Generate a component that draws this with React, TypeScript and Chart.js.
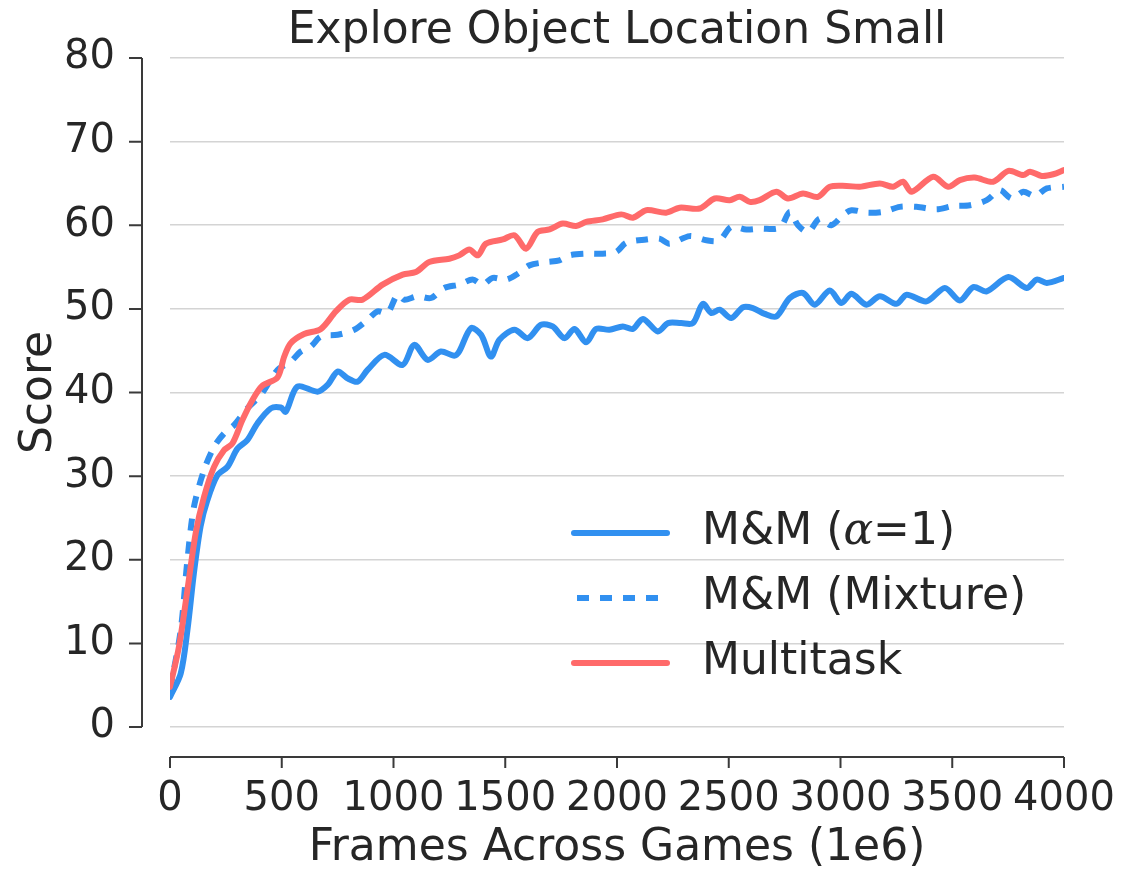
import { useEffect, useRef } from "react";
import Chart from "chart.js/auto";

const FONT = "'DejaVu Sans', sans-serif";
const TEXT = "#262626";
const BLUE = "#3190F0";
const RED = "#FF6A6A";

const chartTitle = "Explore Object Location Small";
const xTicks = [0, 500, 1000, 1500, 2000, 2500, 3000, 3500, 4000];
const yTicks = [0, 10, 20, 30, 40, 50, 60, 70, 80];
const seriesLabels = ["M&M (α=1)", "M&M (Mixture)", "Multitask"];

// M&M (alpha = 1), solid blue
const alphaX = [0, 48, 78, 107, 137, 167, 212, 257, 302, 346, 391, 451, 496, 518, 570, 660, 705, 750, 794, 839, 884, 959, 1041, 1093, 1153, 1212, 1272, 1294, 1347, 1392, 1436, 1474, 1541, 1601, 1660, 1712, 1765, 1810, 1862, 1907, 1966, 2026, 2071, 2116, 2183, 2228, 2287, 2340, 2384, 2422, 2459, 2511, 2564, 2608, 2661, 2713, 2773, 2832, 2885, 2952, 3004, 3049, 3116, 3176, 3251, 3296, 3385, 3467, 3534, 3594, 3654, 3751, 3833, 3878, 3923, 4000];
const alphaY = [3.6, 6.4, 11.6, 18.4, 24.0, 27.1, 30.1, 31.1, 33.3, 34.3, 36.3, 38.1, 38.2, 37.7, 40.7, 40.1, 40.9, 42.5, 41.7, 41.3, 42.7, 44.5, 43.3, 45.7, 43.9, 44.9, 44.4, 44.9, 47.7, 46.9, 44.3, 46.3, 47.5, 46.5, 48.1, 47.9, 46.5, 47.6, 46.0, 47.6, 47.5, 47.9, 47.6, 48.8, 47.3, 48.3, 48.3, 48.3, 50.6, 49.5, 49.9, 48.9, 50.2, 50.1, 49.4, 49.1, 51.3, 51.9, 50.5, 52.2, 50.7, 51.8, 50.5, 51.5, 50.6, 51.7, 50.9, 52.5, 51.0, 52.6, 52.1, 53.8, 52.5, 53.5, 53.1, 53.7];

// M&M (Mixture), dashed blue
const mixtureX = [0, 48, 78, 107, 152, 197, 242, 287, 346, 406, 481, 540, 585, 630, 675, 750, 824, 884, 929, 973, 1018, 1048, 1108, 1168, 1227, 1294, 1354, 1399, 1444, 1504, 1556, 1608, 1683, 1742, 1787, 1862, 1936, 1996, 2041, 2131, 2190, 2235, 2325, 2400, 2459, 2511, 2579, 2638, 2728, 2773, 2810, 2855, 2907, 2959, 3011, 3049, 3116, 3191, 3265, 3340, 3430, 3504, 3579, 3654, 3713, 3766, 3818, 3870, 3923, 4000];
const mixtureY = [4.4, 11.6, 20.0, 26.3, 30.7, 33.5, 35.1, 36.1, 38.1, 39.7, 42.7, 43.7, 44.9, 45.5, 46.7, 46.9, 47.5, 48.7, 49.7, 49.5, 51.7, 51.1, 51.5, 51.3, 52.5, 52.9, 53.5, 52.9, 53.7, 53.5, 54.2, 55.2, 55.6, 55.8, 56.4, 56.6, 56.6, 56.8, 57.9, 58.3, 58.4, 57.8, 58.7, 58.2, 58.2, 59.8, 59.5, 59.6, 59.7, 61.6, 60.0, 59.2, 60.8, 60.0, 61.2, 61.8, 61.5, 61.6, 62.2, 62.2, 61.9, 62.3, 62.4, 63.0, 64.2, 63.2, 64.0, 63.5, 64.4, 64.6];

// Multitask, solid red
const multitaskX = [0, 40, 78, 115, 152, 197, 242, 279, 324, 369, 413, 481, 511, 540, 600, 675, 742, 802, 861, 951, 1041, 1100, 1160, 1250, 1294, 1339, 1377, 1414, 1489, 1541, 1593, 1645, 1698, 1757, 1817, 1862, 1936, 2019, 2071, 2131, 2220, 2280, 2370, 2437, 2504, 2549, 2594, 2638, 2713, 2765, 2832, 2899, 2952, 3027, 3086, 3176, 3235, 3280, 3318, 3415, 3482, 3534, 3601, 3683, 3751, 3818, 3848, 3900, 3952, 4000];
const multitaskY = [4.8, 9.6, 16.4, 23.2, 27.5, 31.1, 33.1, 33.9, 36.7, 39.1, 40.8, 41.8, 44.3, 45.9, 47.0, 47.6, 49.7, 51.1, 51.1, 52.9, 54.1, 54.4, 55.6, 56.0, 56.4, 57.1, 56.4, 57.8, 58.3, 58.8, 57.2, 59.2, 59.5, 60.2, 59.9, 60.4, 60.7, 61.3, 60.9, 61.8, 61.5, 62.1, 62.0, 63.2, 63.0, 63.4, 62.8, 63.0, 64.0, 63.2, 63.8, 63.4, 64.6, 64.7, 64.6, 65.0, 64.6, 65.2, 64.0, 65.8, 64.6, 65.4, 65.7, 65.2, 66.5, 66.0, 66.4, 65.9, 66.1, 66.6];

const toPoints = (xs: number[], ys: number[]) => xs.map((x, i) => ({ x, y: ys[i] }));

// title over the plot area, detached seaborn-style spines and the legend inside the plot
const decorPlugin = {
  id: "decor",
  afterDraw(chart: any) {
    const { ctx, chartArea, scales } = chart;
    const xs = scales.x;
    const ys = scales.y;
    ctx.save();

    ctx.fillStyle = TEXT;
    ctx.font = `44px ${FONT}`;
    ctx.textAlign = "center";
    ctx.textBaseline = "middle";
    ctx.fillText(chartTitle, (chartArea.left + chartArea.right) / 2, chartArea.top - 26);

    ctx.strokeStyle = "#3a3a3a";
    ctx.lineWidth = 2;
    ctx.beginPath();
    const sx = chartArea.left - 28;
    ctx.moveTo(sx, ys.getPixelForValue(yTicks[0]));
    ctx.lineTo(sx, ys.getPixelForValue(yTicks[yTicks.length - 1]));
    yTicks.forEach((v) => {
      const p = ys.getPixelForValue(v);
      ctx.moveTo(sx - 13, p);
      ctx.lineTo(sx, p);
    });
    const sy = chartArea.bottom + 30;
    ctx.moveTo(xs.getPixelForValue(xTicks[0]), sy);
    ctx.lineTo(xs.getPixelForValue(xTicks[xTicks.length - 1]), sy);
    xTicks.forEach((v) => {
      const p = xs.getPixelForValue(v);
      ctx.moveTo(p, sy);
      ctx.lineTo(p, sy + 11);
    });
    ctx.stroke();

    // legend
    const lineX0 = chartArea.left + 404;
    const lineX1 = chartArea.left + 497;
    const textX = chartArea.left + 532;
    const rowY = [chartArea.bottom - 194, chartArea.bottom - 129, chartArea.bottom - 64];
    chart.data.datasets.forEach((ds: any, i: number) => {
      const y = rowY[i];
      ctx.strokeStyle = ds.borderColor;
      ctx.lineWidth = ds.borderWidth;
      ctx.setLineDash(ds.borderDash || []);
      ctx.lineCap = ds.borderDash ? "butt" : "round";
      ctx.beginPath();
      ctx.moveTo(ds.borderDash ? lineX0 + 3 : lineX0, y);
      ctx.lineTo(lineX1, y);
      ctx.stroke();
      ctx.setLineDash([]);

      ctx.fillStyle = TEXT;
      ctx.textBaseline = "middle";
      ctx.textAlign = "left";
      let x = textX;
      const parts = (ds.label as string).split("α");
      parts.forEach((part, k) => {
        ctx.font = `44px ${FONT}`;
        ctx.fillText(part, x, y);
        x += ctx.measureText(part).width;
        if (k < parts.length - 1) {
          ctx.font = `italic 44px 'DejaVu Serif', serif`;
          ctx.fillText("α", x, y);
          x += ctx.measureText("α").width;
        }
      });
    });
    ctx.restore();
  },
};

const ScoreChart = () => {
  const chartRef = useRef<HTMLCanvasElement | null>(null);

  useEffect(() => {
    if (!chartRef.current) return;
    const chart = new Chart(chartRef.current, {
      type: "line",
      data: {
        datasets: [
          {
            label: seriesLabels[0],
            data: toPoints(alphaX, alphaY),
            borderColor: BLUE,
            borderWidth: 6,
            borderCapStyle: "round",
            borderJoinStyle: "round",
            pointRadius: 0,
            tension: 0.3,
            order: 3,
          },
          {
            label: seriesLabels[1],
            data: toPoints(mixtureX, mixtureY),
            borderColor: BLUE,
            borderWidth: 6,
            borderDash: [12, 11],
            pointRadius: 0,
            tension: 0.3,
            order: 2,
          },
          {
            label: seriesLabels[2],
            data: toPoints(multitaskX, multitaskY),
            borderColor: RED,
            borderWidth: 6,
            borderCapStyle: "round",
            borderJoinStyle: "round",
            pointRadius: 0,
            tension: 0.3,
            order: 1,
          },
        ],
      },
      options: {
        responsive: false,
        animation: false,
        layout: { padding: { left: 0, right: 65, top: 58, bottom: 0 } },
        plugins: {
          legend: { display: false },
          tooltip: { enabled: false },
          title: { display: false },
        },
        scales: {
          x: {
            type: "linear",
            min: 0,
            max: 4000,
            afterBuildTicks: (s: any) => {
              s.ticks = xTicks.map((value) => ({ value }));
            },
            afterFit: (s: any) => {
              s.height = 161;
            },
            grid: { display: false, drawTicks: true, tickLength: 45, tickColor: "transparent" },
            border: { display: false },
            ticks: {
              color: TEXT,
              padding: 4,
              maxRotation: 0,
              autoSkip: false,
              font: { family: FONT, size: 40 },
              callback: (v: any) => String(v),
            },
            title: {
              display: true,
              text: "Frames Across Games (1e6)",
              color: TEXT,
              font: { family: FONT, size: 44 },
              padding: { top: 0, bottom: 13 },
            },
          },
          y: {
            min: 0,
            max: 80,
            afterBuildTicks: (s: any) => {
              s.ticks = yTicks.map((value) => ({ value }));
            },
            afterFit: (s: any) => {
              s.width = 170;
            },
            grid: { color: "#d4d4d4", lineWidth: 1.6, drawTicks: true, tickLength: 51, tickColor: "transparent" },
            border: { display: false },
            ticks: {
              color: TEXT,
              padding: 4,
              font: { family: FONT, size: 40 },
              callback: (v: any) => String(v),
            },
            title: {
              display: true,
              text: "Score",
              color: TEXT,
              font: { family: FONT, size: 44 },
              padding: { top: 13, bottom: 0 },
            },
          },
        },
      },
      plugins: [decorPlugin],
    });

    return () => {
      chart.destroy();
    };
  }, []);

  return (
    <div style={{ position: "absolute", left: 0, top: 0, width: 1129, height: 888, background: "#fff" }}>
      <canvas ref={chartRef} width={1129} height={888} style={{ width: 1129, height: 888 }} />
    </div>
  );
};

export default function App() {
  return <ScoreChart />;
}
